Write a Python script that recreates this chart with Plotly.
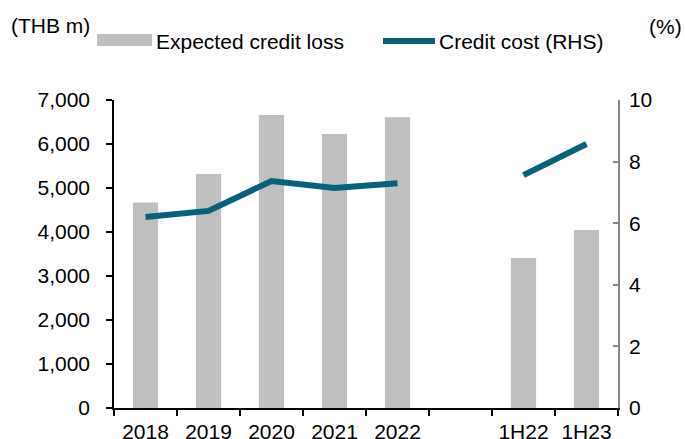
import plotly.graph_objects as go

categories = ["2018", "2019", "2020", "2021", "2022", " ", "1H22", "1H23"]
expected_credit_loss = [4670, 5320, 6660, 6230, 6610, None, 3410, 4045]
credit_cost = [6.2, 6.4, 7.37, 7.14, 7.3, None, 7.56, 8.57]

BAR_COLOR = "#BFBFBF"
LINE_COLOR = "#08607B"
FONT = "Liberation Sans, Arial, sans-serif"
FS = 21

fig = go.Figure()
fig.add_trace(go.Bar(x=categories, y=expected_credit_loss, name="Expected credit loss",
                     marker=dict(color=BAR_COLOR, line=dict(width=0)), width=0.4,
                     showlegend=False))
fig.add_trace(go.Scatter(x=categories, y=credit_cost, name="Credit cost (RHS)", yaxis="y2",
                         mode="lines", line=dict(color=LINE_COLOR, width=6),
                         connectgaps=False, showlegend=False))

L, R, T, B = 114, 67, 100, 31
W, H = 685, 439
pw, ph = W - L - R, H - T - B

def px(x):
    return (x - L) / pw

def py(y):
    return (H - B - y) / ph

shapes = [
    dict(type="rect", xref="paper", yref="paper", x0=px(97), x1=px(152), y0=py(46), y1=py(34),
         fillcolor=BAR_COLOR, line=dict(width=0)),
    dict(type="line", xref="paper", yref="paper", x0=px(383), x1=px(435), y0=py(41), y1=py(41),
         line=dict(color=LINE_COLOR, width=6)),
]
annotations = [
    dict(text="Expected credit loss", xref="paper", yref="paper", x=px(154), y=py(41),
         xanchor="left", yanchor="middle", showarrow=False, font=dict(size=FS)),
    dict(text="Credit cost (RHS)", xref="paper", yref="paper", x=px(437), y=py(41),
         xanchor="left", yanchor="middle", showarrow=False, font=dict(size=FS)),
    dict(text="(THB m)", xref="paper", yref="paper", x=px(9), y=py(25),
         xanchor="left", yanchor="middle", showarrow=False, font=dict(size=FS)),
    dict(text="(%)", xref="paper", yref="paper", x=px(684), y=py(27),
         xanchor="right", yanchor="middle", showarrow=False, font=dict(size=FS)),
]

fig.update_layout(
    width=W, height=H,
    margin=dict(l=L, r=R, t=T, b=B, pad=0, autoexpand=False),
    paper_bgcolor="white", plot_bgcolor="white",
    font=dict(family=FONT, size=FS, color="#000000"),
    shapes=shapes, annotations=annotations,
    xaxis=dict(type="category", showline=True, linecolor="#000000", linewidth=1.5,
               ticks="outside", tickson="boundaries", ticklen=6, tickcolor="#000000",
               tickwidth=1.5, showgrid=False, zeroline=False, ticklabelstandoff=4,
               automargin=False, tickfont=dict(size=FS)),
    yaxis=dict(range=[0, 7000], dtick=1000, tickformat=",", showline=True,
               linecolor="#000000", linewidth=1.5, ticks="outside", ticklen=6,
               tickcolor="#000000", tickwidth=1.5, showgrid=False, zeroline=False,
               ticklabelstandoff=12, automargin=False, tickfont=dict(size=FS)),
    yaxis2=dict(range=[0, 10], dtick=2, overlaying="y", side="right", showline=True,
                linecolor="#888888", linewidth=1.5, ticks="inside", ticklen=5,
                tickcolor="#888888", tickwidth=1.5, showgrid=False, zeroline=False,
                ticklabelstandoff=5, automargin=False, tickfont=dict(size=FS)),
)

fig.write_html("out.html", config={"responsive": False, "displayModeBar": False},
               post_script="document.body.style.margin='0';document.body.style.overflow='hidden';")
